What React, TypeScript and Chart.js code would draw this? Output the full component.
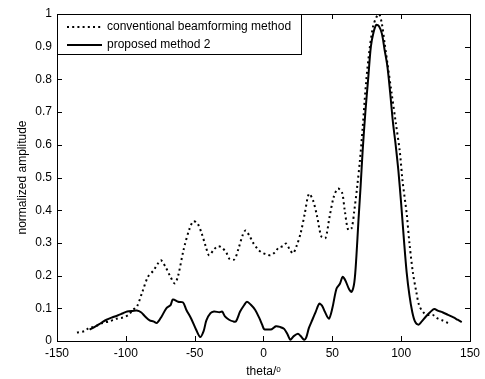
import React, { useEffect, useRef } from "react";
import { Chart, registerables } from "chart.js";

Chart.register(...registerables);

const convX = [-135.5, -130, -127.5, -122, -117, -112, -107, -102, -98, -95, -92, -88, -84, -80, -77, -74.5, -71, -68, -64.5, -62, -58, -54, -51, -48, -45, -42, -39.5, -36, -33, -30, -27, -24.5, -21, -18, -15, -13, -10, -7.5, -4, -1, 2, 5, 8, 11, 14, 16.5, 19, 21.5, 24, 27, 30, 33, 36, 39, 42, 45, 48, 51, 54, 57, 59, 61.5, 64, 66, 68, 70, 72, 74.5, 77, 79.5, 82, 84, 86, 88, 90, 93, 96, 99, 101, 104, 106, 108.5, 111, 113, 116, 119, 123, 126, 130, 134];
const convY = [0.026, 0.03, 0.038, 0.045, 0.055, 0.06, 0.068, 0.072, 0.08, 0.095, 0.105, 0.15, 0.196, 0.215, 0.235, 0.247, 0.225, 0.2, 0.176, 0.2, 0.28, 0.34, 0.366, 0.36, 0.33, 0.29, 0.262, 0.28, 0.29, 0.285, 0.27, 0.25, 0.25, 0.285, 0.325, 0.338, 0.32, 0.3, 0.28, 0.27, 0.265, 0.262, 0.27, 0.285, 0.29, 0.298, 0.28, 0.268, 0.29, 0.33, 0.39, 0.45, 0.43, 0.38, 0.32, 0.315, 0.38, 0.44, 0.466, 0.455, 0.4, 0.34, 0.345, 0.4, 0.47, 0.55, 0.65, 0.79, 0.89, 0.96, 0.99, 1.0, 0.97, 0.91, 0.85, 0.76, 0.67, 0.58, 0.49, 0.39, 0.3, 0.21, 0.15, 0.11, 0.088, 0.08, 0.08, 0.07, 0.063, 0.055];

const propX = [-126.3, -122, -118, -114, -110, -106, -102, -99, -95, -92, -89, -86, -82.7, -80, -77.4, -74, -70.6, -67.5, -65.8, -62, -58.5, -56, -52.5, -49, -46, -43.5, -41.5, -38.5, -36, -32, -30, -28, -25, -22, -20, -17, -14, -12, -9, -6, -3, -1, 0.5, 3, 6, 9, 12, 15, 17.5, 19.5, 22, 25, 27, 29.5, 31, 33, 35.5, 38, 40.5, 42.5, 44.5, 47.5, 50, 53, 55.5, 57.5, 59.5, 62, 64, 66, 67.5, 69, 70.5, 72, 74, 76, 78, 80, 82, 84, 86, 88, 90, 92, 94, 96, 98, 100, 102, 104, 106, 108, 110, 112.6, 115, 118, 121, 124, 127, 130, 134, 138, 141, 144];
const propY = [0.035, 0.045, 0.055, 0.065, 0.072, 0.078, 0.085, 0.09, 0.092, 0.093, 0.088, 0.075, 0.063, 0.06, 0.055, 0.075, 0.1, 0.11, 0.127, 0.12, 0.118, 0.095, 0.068, 0.035, 0.012, 0.03, 0.063, 0.085, 0.09, 0.088, 0.09, 0.075, 0.065, 0.06, 0.06, 0.09, 0.11, 0.12, 0.11, 0.095, 0.07, 0.05, 0.036, 0.035, 0.036, 0.045, 0.043, 0.037, 0.02, 0.004, 0.015, 0.022, 0.015, 0.004, 0.01, 0.04, 0.065, 0.09, 0.114, 0.108, 0.09, 0.068, 0.1, 0.16, 0.175, 0.196, 0.185, 0.16, 0.15, 0.18, 0.26, 0.37, 0.47, 0.58, 0.7, 0.8, 0.9, 0.945, 0.967, 0.962, 0.94, 0.89, 0.84, 0.76, 0.67, 0.6, 0.52, 0.42, 0.31, 0.21, 0.14, 0.09, 0.06, 0.05, 0.06, 0.075, 0.088, 0.098, 0.092, 0.088, 0.08, 0.072, 0.065, 0.058];

const seriesNames = ["conventional beamforming method", "proposed method 2"];
const xTitle = "theta/\u1D52";
const yTitle = "normalized amplitude";

const FONT = '"Liberation Sans", Arial, sans-serif';
const FS = 12;
const DOT_DASH = [2, 3.2];

const framePlugin = {
  id: "frame",
  afterDraw(chart: any) {
    const { ctx, chartArea: a, scales } = chart;
    const xs = scales.x;
    const ys = scales.y;
    ctx.save();
    ctx.strokeStyle = "#000";
    ctx.lineWidth = 1;
    ctx.setLineDash([]);
    const tl = 5;
    ctx.beginPath();
    xs.ticks.forEach((t: any) => {
      const px = Math.round(xs.getPixelForValue(t.value)) + 0.5;
      ctx.moveTo(px, a.bottom);
      ctx.lineTo(px, a.bottom - tl);
      ctx.moveTo(px, a.top);
      ctx.lineTo(px, a.top + tl);
    });
    ys.ticks.forEach((t: any) => {
      const py = Math.round(ys.getPixelForValue(t.value)) + 0.5;
      ctx.moveTo(a.left, py);
      ctx.lineTo(a.left + tl, py);
      ctx.moveTo(a.right, py);
      ctx.lineTo(a.right - tl, py);
    });
    ctx.stroke();
    // legend
    const lx = a.left, ly = a.top, lw = 244, lh = 40;
    ctx.fillStyle = "#fff";
    ctx.fillRect(lx, ly, lw, lh);
    ctx.strokeRect(Math.round(lx) + 0.5, Math.round(ly) + 0.5, lw, lh);
    const rows = [ly + 13, ly + 31];
    chart.data.datasets.forEach((ds: any, i: number) => {
      ctx.beginPath();
      ctx.lineWidth = ds.borderWidth;
      ctx.setLineDash(ds.borderDash || []);
      ctx.moveTo(lx + 10, rows[i]);
      ctx.lineTo(lx + 45, rows[i]);
      ctx.stroke();
      ctx.setLineDash([]);
      ctx.fillStyle = "#000";
      ctx.font = `${FS}px ${FONT}`;
      ctx.textBaseline = "middle";
      ctx.textAlign = "left";
      ctx.fillText(ds.label, lx + 50, rows[i]);
    });
    // frame
    ctx.lineWidth = 1;
    ctx.strokeRect(Math.round(a.left) + 0.5, Math.round(a.top) + 0.5, Math.round(a.right - a.left), Math.round(a.bottom - a.top));
    ctx.restore();
  },
};

export default function App() {
  const ref = useRef<HTMLCanvasElement>(null);
  useEffect(() => {
    if (!ref.current) return;
    const chart = new Chart(ref.current, {
      type: "line",
      data: {
        datasets: [
          {
            label: seriesNames[0],
            data: convX.map((x, i) => ({ x, y: convY[i] })),
            borderColor: "#000",
            borderWidth: 2,
            borderDash: DOT_DASH,
            pointRadius: 0,
            fill: false,
            tension: 0.3,
          },
          {
            label: seriesNames[1],
            data: propX.map((x, i) => ({ x, y: propY[i] })),
            borderColor: "#000",
            borderWidth: 2,
            pointRadius: 0,
            fill: false,
            tension: 0.3,
          },
        ],
      },
      options: {
        responsive: false,
        animation: false,
        layout: { padding: { top: 14, right: 14, left: 0, bottom: 0 } },
        plugins: { legend: { display: false }, tooltip: { enabled: false } },
        scales: {
          x: {
            type: "linear",
            min: -150,
            max: 150,
            grid: { display: false, drawTicks: false },
            border: { display: false },
            ticks: { stepSize: 50, color: "#000", font: { family: FONT, size: FS }, padding: 5, maxRotation: 0, autoSkip: false },
            title: { display: true, text: xTitle, color: "#000", font: { family: FONT, size: FS }, padding: { top: 0, bottom: 0 } },
            afterFit: (s: any) => { s.height = 38; },
          },
          y: {
            type: "linear",
            min: 0,
            max: 1,
            grid: { display: false, drawTicks: false },
            border: { display: false },
            ticks: {
              stepSize: 0.1,
              color: "#000",
              font: { family: FONT, size: FS },
              padding: 5,
              callback: (v: any) => String(Math.round(Number(v) * 10) / 10),
            },
            title: { display: true, text: yTitle, color: "#000", font: { family: FONT, size: FS }, padding: { top: 15, bottom: 0 } },
            afterFit: (s: any) => { s.width = 57; },
          },
        },
      },
      plugins: [framePlugin],
    });
    return () => chart.destroy();
  }, []);
  return (
    <div style={{ position: "absolute", left: 0, top: 0, width: 485, height: 379, background: "#fff" }}>
      <canvas ref={ref} width={485} height={379} />
    </div>
  );
}
